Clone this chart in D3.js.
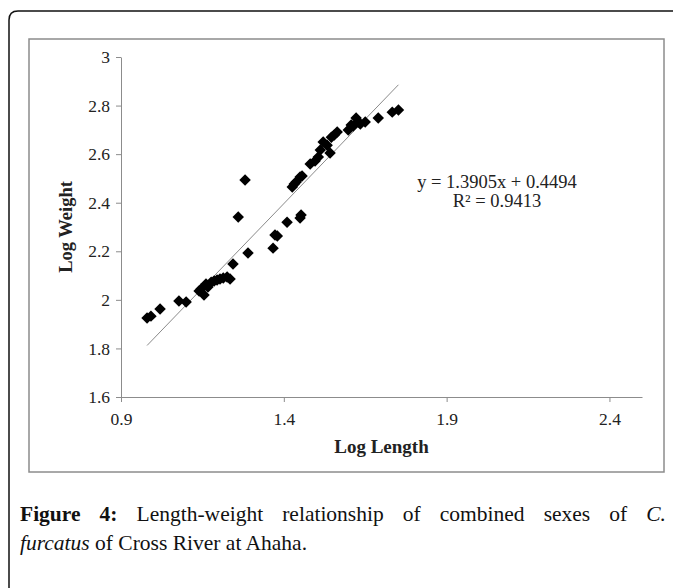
<!DOCTYPE html>
<html>
<head>
<meta charset="utf-8">
<script src="https://cdn.jsdelivr.net/npm/d3@7"></script>
<style>
  body { margin: 0; background: #fff; }
  svg { display: block; }
</style>
</head>
<body>
<svg id="chart" width="673" height="588"></svg>
<script>
// data: log length vs log weight
const logLength = [
  0.980, 0.992, 1.020, 1.078, 1.100, 1.140, 1.146, 1.155, 1.161, 1.167,
  1.177, 1.186, 1.195, 1.204, 1.214, 1.226, 1.235, 1.244, 1.260, 1.281,
  1.290, 1.367, 1.373, 1.380, 1.410, 1.450, 1.453, 1.426, 1.432, 1.438,
  1.450, 1.456, 1.481, 1.496, 1.506, 1.512, 1.521, 1.533, 1.542, 1.546,
  1.555, 1.564, 1.598, 1.607, 1.613, 1.622, 1.629, 1.635, 1.650, 1.690,
  1.733, 1.752
];
const logWeight = [
  1.925, 1.933, 1.962, 1.995, 1.991, 2.036, 2.045, 2.020, 2.065, 2.053,
  2.073, 2.078, 2.082, 2.086, 2.090, 2.094, 2.086, 2.148, 2.341, 2.494,
  2.193, 2.213, 2.267, 2.263, 2.320, 2.337, 2.349, 2.465, 2.477, 2.485,
  2.506, 2.510, 2.559, 2.572, 2.588, 2.617, 2.650, 2.637, 2.605, 2.670,
  2.679, 2.691, 2.699, 2.720, 2.716, 2.749, 2.732, 2.724, 2.732, 2.749,
  2.773, 2.782
];
const xTicks = [0.9, 1.4, 1.9, 2.4];
const yTicks = [1.6, 1.8, 2, 2.2, 2.4, 2.6, 2.8, 3];
const slope = 1.3905;
const intercept = 0.4494;
const eqLines = ["y = 1.3905x + 0.4494", "R² = 0.9413"];
const captionLine1 = [
  { t: "Figure", b: true }, { t: "4:", b: true }, { t: "Length-weight" },
  { t: "relationship" }, { t: "of" }, { t: "combined" }, { t: "sexes" },
  { t: "of" }, { t: "C.", i: true }
];

const serif = "'Liberation Serif', 'DejaVu Serif', serif";
const svg = d3.select("#chart");

// page frame (rounded top-left corner, runs off the page)
svg.append("path")
  .attr("d", "M9,600 L9,20 Q9,11 18,11 L690,11")
  .attr("fill", "none")
  .attr("stroke", "#111")
  .attr("stroke-width", 1.5);

// chart area border
svg.append("rect")
  .attr("x", 29).attr("y", 39)
  .attr("width", 635).attr("height", 433)
  .attr("fill", "none")
  .attr("stroke", "#8c8c8c")
  .attr("stroke-width", 1.5);

// scales
const x = d3.scaleLinear().domain([0.9, 2.5]).range([121, 642]);
const y = d3.scaleLinear().domain([1.6, 3]).range([397, 57]);

// axes
const xAxis = svg.append("g")
  .attr("transform", `translate(0,${y(1.6)})`)
  .call(d3.axisBottom(x).tickValues(xTicks).tickSize(5).tickSizeOuter(0)
    .tickFormat(d3.format(".1f")));

const yAxis = svg.append("g")
  .attr("transform", `translate(${x(0.9)},0)`)
  .call(d3.axisLeft(y).tickValues(yTicks).tickSize(5).tickSizeOuter(0)
    .tickFormat((d) => (d === 2 || d === 3 ? d3.format("d")(d) : d3.format(".1f")(d))));

[xAxis, yAxis].forEach((g) => {
  g.selectAll("path, line").attr("stroke", "#8c8c8c");
  g.selectAll("text")
    .attr("font-family", serif)
    .attr("font-size", 17.5)
    .attr("fill", "#222");
});
xAxis.selectAll("text").attr("dy", "1.15em");
yAxis.selectAll("text").attr("x", -11);

// axis titles
svg.append("text")
  .attr("x", (x(0.9) + x(2.5)) / 2)
  .attr("y", 453)
  .attr("text-anchor", "middle")
  .attr("font-family", serif)
  .attr("font-weight", "bold")
  .attr("font-size", 19)
  .attr("fill", "#222")
  .text("Log Length");

svg.append("text")
  .attr("transform", `translate(72,${(y(1.6) + y(3)) / 2}) rotate(-90)`)
  .attr("text-anchor", "middle")
  .attr("font-family", serif)
  .attr("font-weight", "bold")
  .attr("font-size", 18.5)
  .attr("fill", "#222")
  .text("Log Weight");

// trendline over the data range
const xMin = d3.min(logLength);
const xMax = d3.max(logLength);
svg.append("line")
  .attr("x1", x(xMin)).attr("y1", y(slope * xMin + intercept))
  .attr("x2", x(xMax)).attr("y2", y(slope * xMax + intercept))
  .attr("stroke", "#8a8a8a")
  .attr("stroke-width", 1);

// diamond markers
const diamond = d3.symbol().type(d3.symbolSquare).size(66);
svg.append("g")
  .selectAll("path")
  .data(logLength.map((v, i) => [v, logWeight[i]]))
  .join("path")
  .attr("d", diamond)
  .attr("transform", (d) => `translate(${x(d[0])},${y(d[1])}) rotate(45)`)
  .attr("fill", "#000");

// equation label
svg.append("g")
  .selectAll("text")
  .data(eqLines)
  .join("text")
  .attr("x", 497)
  .attr("y", (d, i) => 188 + i * 19)
  .attr("text-anchor", "middle")
  .attr("font-family", serif)
  .attr("font-size", 18.5)
  .attr("fill", "#222")
  .text((d) => d);

// caption, first line justified between the margins
const capLeft = 20, capRight = 666;
const cap1 = svg.append("g");
const words = cap1.selectAll("text")
  .data(captionLine1)
  .join("text")
  .attr("y", 521)
  .attr("font-family", serif)
  .attr("font-size", 21.5)
  .attr("font-weight", (d) => (d.b ? "bold" : "normal"))
  .attr("font-style", (d) => (d.i ? "italic" : "normal"))
  .attr("fill", "#111")
  .text((d) => d.t);
const widths = words.nodes().map((n) => n.getComputedTextLength());
const gap = (capRight - capLeft - d3.sum(widths)) / (widths.length - 1);
let cx = capLeft;
words.attr("x", (d, i) => {
  const pos = cx;
  cx += widths[i] + gap;
  return pos;
});

const cap2 = svg.append("text")
  .attr("x", capLeft)
  .attr("y", 550)
  .attr("font-family", serif)
  .attr("font-size", 21.5)
  .attr("fill", "#111");
cap2.append("tspan").attr("font-style", "italic").text("furcatus");
cap2.append("tspan").text(" of Cross River at Ahaha.");
</script>
</body>
</html>
